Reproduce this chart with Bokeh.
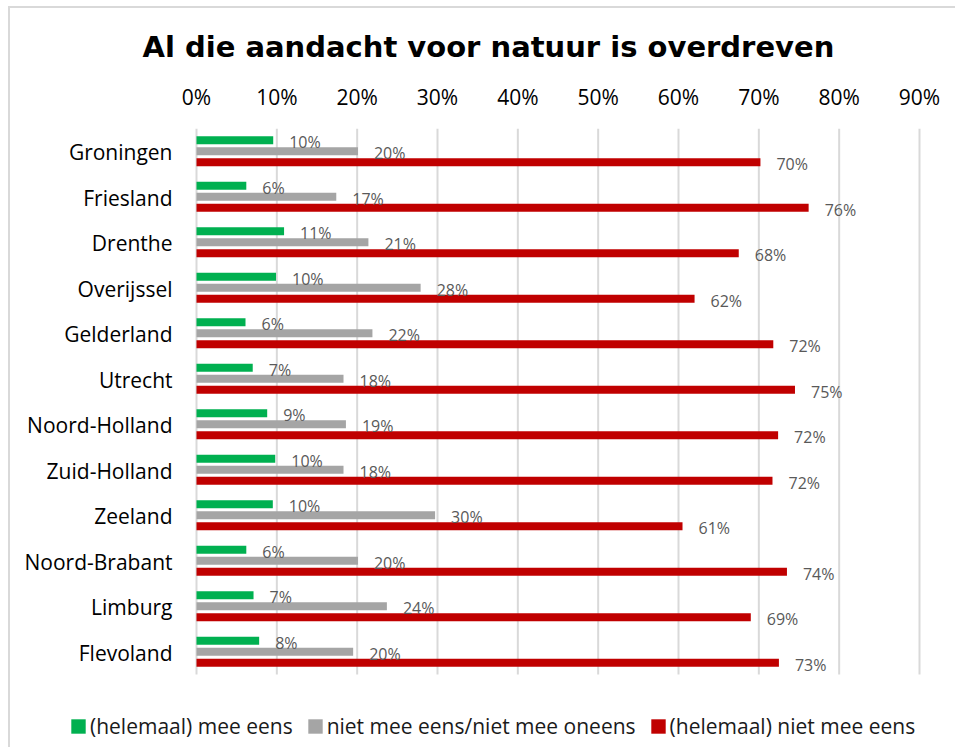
from bokeh.plotting import figure
from bokeh.layouts import column
from bokeh.models import (ColumnDataSource, Range1d, NumeralTickFormatter,
                          FixedTicker, Legend, LegendItem, Title)
from bokeh.core.properties import value
from bokeh.embed import file_html
from bokeh.resources import INLINE

title_text = "Al die aandacht voor natuur is overdreven"
regions = ["Groningen", "Friesland", "Drenthe", "Overijssel", "Gelderland", "Utrecht",
           "Noord-Holland", "Zuid-Holland", "Zeeland", "Noord-Brabant", "Limburg", "Flevoland"]
series_names = ["(helemaal) mee eens", "niet mee eens/niet mee oneens", "(helemaal) niet mee eens"]
eens = [9.55, 6.2, 10.9, 9.9, 6.1, 7.0, 8.8, 9.8, 9.5, 6.2, 7.1, 7.8]
neutraal = [20.1, 17.4, 21.4, 27.9, 21.9, 18.3, 18.6, 18.3, 29.7, 20.1, 23.7, 19.5]
oneens = [70.2, 76.2, 67.5, 62.0, 71.8, 74.5, 72.4, 71.7, 60.5, 73.5, 69.0, 72.5]
x_ticks = [0, 10, 20, 30, 40, 50, 60, 70, 80, 90]
colors = ["#00B050", "#A5A5A5", "#C00000"]


def pct(v):
    return "%d%%" % int(v + 0.5)


# ---- layout geometry (pixels) ----
W, H = 945, 739
L, R, T, B = 10, 20, 120, 2
frame_w = W - L - R
frame_h = H - T - B
plot_left_px = 176            # where 0% sits inside the frame
axis_w_px = 723               # width of 0..90%
cat_px = 45.5                 # height of one category band
n = len(regions)

xmax = x_ticks[-1] / 100
s = axis_w_px / xmax
x_start = -plot_left_px / s
x_end = x_start + frame_w / s
y_top = n - 0.5
y_bottom = y_top - frame_h / cat_px

ypos = [n - 1 - i for i in range(n)]
off = 0.242

src = ColumnDataSource(dict(
    region=regions,
    y=ypos,
    y_eens=[y + off for y in ypos],
    y_neutraal=ypos,
    y_oneens=[y - off for y in ypos],
    eens=[v / 100 for v in eens],
    neutraal=[v / 100 for v in neutraal],
    oneens=[v / 100 for v in oneens],
    eens_lbl=[pct(v) for v in eens],
    neutraal_lbl=[pct(v) for v in neutraal],
    oneens_lbl=[pct(v) for v in oneens],
    zero=[0] * n,
))

p = figure(width=W, height=H, output_backend="svg", toolbar_location=None,
           x_range=Range1d(x_start, x_end), y_range=Range1d(y_bottom, y_top),
           x_axis_location="above", y_axis_location=None,
           min_border_left=L, min_border_right=R, min_border_top=T, min_border_bottom=B)

p.title = Title(text=title_text, text_font="DejaVu Sans", text_font_style="bold",
                text_font_size="29px", align="left", offset=122, standoff=31,
                text_color="#000000")

# vertical grid lines at the tick positions, over the category area only
tick_x = [t / 100 for t in x_ticks]
p.segment(x0=tick_x, x1=tick_x, y0=[-0.5] * len(tick_x), y1=[y_top] * len(tick_x),
          line_color="#D9D9D9", line_width=2)

fields = ["eens", "neutraal", "oneens"]
renderers = []
for f, c in zip(fields, colors):
    r = p.hbar(y="y_" + f, right=f, left=0, height=0.18, source=src,
               fill_color=c, line_color=None)
    renderers.append(r)
for f in fields:
    p.text(x=f, y="y_" + f, text=f + "_lbl", source=src,
           x_offset=16, y_offset=2, text_align="left", text_baseline="middle",
           text_font=value("Open Sans"), text_font_size="16px", text_color="#595959")

# category labels
p.text(x="zero", y="y", text="region", source=src, x_offset=-24, y_offset=1,
       text_align="right", text_baseline="middle",
       text_font=value("Open Sans"), text_font_size="21px", text_color="#000000")

legend = Legend(items=[LegendItem(label=nm, renderers=[r]) for nm, r in zip(series_names, renderers)],
                orientation="horizontal", location=(49, 5),
                glyph_width=18, glyph_height=18, label_standoff=3, spacing=13,
                padding=0, margin=0, border_line_color=None, background_fill_alpha=0,
                label_text_font="Open Sans", label_text_font_size="21px",
                label_text_color="#1a1a1a", label_height=20)
p.add_layout(legend, "center")

xa = p.xaxis[0]
xa.ticker = FixedTicker(ticks=tick_x)
xa.formatter = NumeralTickFormatter(format="0%")
xa.axis_line_color = None
xa.major_tick_line_color = None
xa.minor_tick_line_color = None
xa.major_label_standoff = 12
xa.major_label_text_font = "Open Sans"
xa.major_label_text_font_size = "21px"
xa.major_label_text_color = "#000000"

p.grid.grid_line_color = None
p.outline_line_color = None
p.background_fill_color = "white"
p.border_fill_color = "white"

layout = column(p, margin=(6, 0, 0, 8),
                styles={"border-top": "2px solid #D9D9D9", "border-left": "2px solid #D9D9D9",
                        "box-sizing": "border-box"})

open("out.html", "w").write(file_html(layout, INLINE))
